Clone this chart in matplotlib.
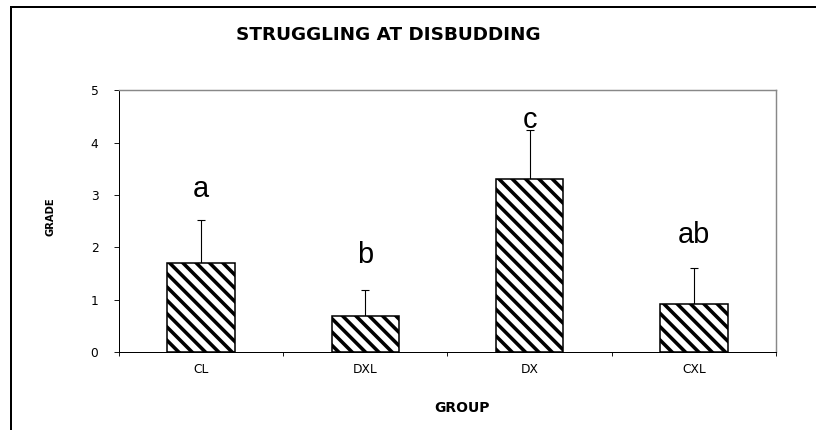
import numpy as np
import matplotlib
matplotlib.use("Agg")
import matplotlib.pyplot as plt
from matplotlib.lines import Line2D

groups = ["CL", "DXL", "DX", "CXL"]
means = [1.7, 0.7, 3.3, 0.92]
errors = [0.82, 0.48, 0.95, 0.69]
letters = ["a", "b", "c", "ab"]
letter_y = [2.96, 1.70, 4.29, 2.08]

plt.rcParams["hatch.linewidth"] = 3.2

fig = plt.figure(figsize=(10.2, 5.375), dpi=80)
ax = fig.add_axes([0.1458, 0.1807, 0.8052, 0.6093])

x = np.arange(len(groups))
ax.bar(x, means, width=0.41, color="white", edgecolor="black",
       linewidth=1.4, hatch="\\\\", zorder=2)
ax.errorbar(x, means, yerr=[np.zeros(len(means)), errors], fmt="none",
            ecolor="black", elinewidth=1.0, capsize=3.5, capthick=1.0, zorder=1)

for xi, lab, ly in zip(x, letters, letter_y):
    ax.text(xi, ly, lab, ha="center", va="baseline", fontsize=26,
            family=["Liberation Sans", "DejaVu Sans"])

ax.set_xlim(-0.5, 3.5)
ax.set_ylim(0, 5)
ax.set_yticks(range(6))
ax.set_xticks(x)
ax.set_xticklabels(groups)
ax.set_xticks(np.arange(-0.5, 4, 1), minor=True)
ax.tick_params(axis="x", which="major", length=0, pad=10, labelsize=11)
ax.tick_params(axis="x", which="minor", length=4, width=0.8, direction="out")
ax.tick_params(axis="y", length=4.5, width=0.8, direction="out", pad=14, labelsize=11)

for side in ["left", "bottom"]:
    ax.spines[side].set_color("black")
    ax.spines[side].set_linewidth(0.9)
for side in ["top", "right"]:
    ax.spines[side].set_color("#888888")
    ax.spines[side].set_linewidth(1.3)

fig.text(0.4755, 0.9186, "STRUGGLING AT DISBUDDING", ha="center", va="center",
         fontsize=16.5, fontweight="bold")
fig.text(0.566, 0.051, "GROUP", ha="center", va="center",
         fontsize=12.5, fontweight="bold")
fig.text(0.0625, 0.495, "GRADE", ha="center", va="center", rotation=90,
         fontsize=9, fontweight="bold")

# outer frame, only left and top edges are visible in the crop
x0 = 11 / 816
y0 = 1 - 7 / 430
fig.add_artist(Line2D([x0, x0], [0, y0], color="black", linewidth=1.8))
fig.add_artist(Line2D([x0, 1], [y0, y0], color="black", linewidth=1.8))

fig.savefig("out.png", dpi=80)
